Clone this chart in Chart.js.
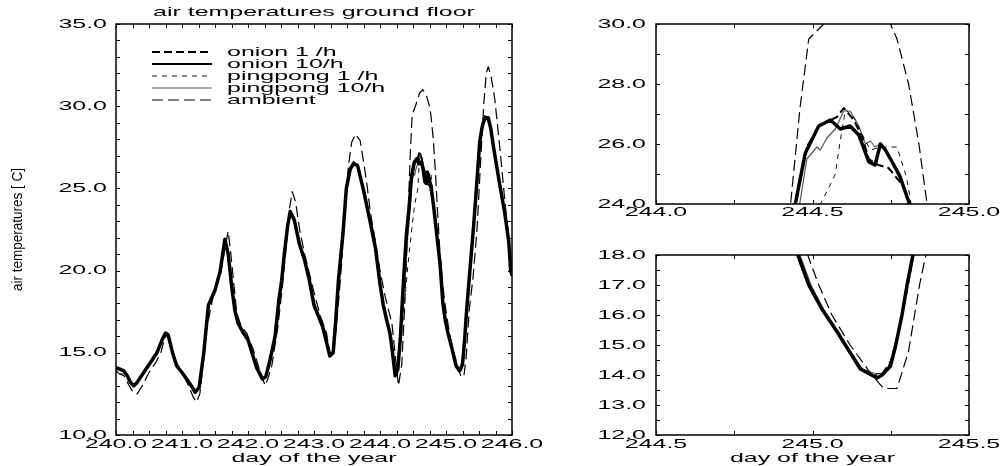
<!DOCTYPE html>
<html>
<head>
<meta charset="utf-8">
<script src="https://cdn.jsdelivr.net/npm/chart.js@4.4.1/dist/chart.umd.min.js"></script>
<style>
    html, body { margin: 0; padding: 0; background: #fff; }
    #wrap      { position: relative; width: 1007px; height: 466px; overflow: hidden; }
    canvas     { position: absolute; }
</style>
</head>
<body>
<div id="wrap">
    <canvas id="main-chart"   width="545" height="466" style="left:0;top:0;"></canvas>
    <canvas id="top-chart"    width="462" height="230" style="left:545px;top:0;"></canvas>
    <canvas id="bottom-chart" width="462" height="236" style="left:545px;top:230px;"></canvas>
</div>
<script>
// ───────────────────────── DATA (day of year / air temperature °C) ─────────────────────────
const seriesLabels = ["onion 1 /h", "onion 10/h", "pingpong 1 /h", "pingpong 10/h", "ambient"];

const onion10Day  = [240.00,240.06,240.12,240.17,240.22,240.27,240.32,240.42,240.52,240.62,240.70,240.75,240.79,240.85,240.92,241.00,241.07,241.14,241.20,241.26,241.33,241.40,241.50,241.58,241.65,241.70,241.76,241.80,241.85,241.93,242.00,242.06,242.13,242.22,242.27,242.33,242.41,242.47,242.51,242.55,242.60,242.64,242.70,242.78,242.86,242.93,243.00,243.07,243.13,243.18,243.24,243.29,243.33,243.37,243.44,243.49,243.55,243.60,243.66,243.75,243.85,243.93,244.00,244.05,244.10,244.15,244.19,244.23,244.27,244.31,244.35,244.40,244.445,244.477,244.52,244.557,244.589,244.62,244.648,244.68,244.70,244.717,244.733,244.76,244.78,244.81,244.86,244.91,244.953,244.988,245.03,245.078,245.12,245.153,245.206,245.222,245.249,245.265,245.286,245.302,245.321,245.37,245.42,245.47,245.51,245.55,245.59,245.64,245.68,245.72,245.82,245.89,245.95,245.98,246.00];
const onion10Temp = [14.1,14.0,13.9,13.6,13.2,13.0,13.2,13.8,14.4,15.0,15.8,16.2,16.1,15.1,14.2,13.8,13.4,13.0,12.6,12.9,15.0,17.9,18.8,20.0,21.9,21.0,18.8,17.6,16.8,16.2,15.8,15.0,14.1,13.4,13.55,14.5,16.0,18.3,19.4,21.0,22.7,23.6,23.1,21.6,20.6,19.4,17.9,17.2,16.6,15.8,14.8,15.0,17.0,19.4,22.3,25.0,26.2,26.5,26.4,24.9,23.0,21.4,19.2,17.9,17.0,16.2,15.0,13.6,14.0,16.0,19.0,22.2,24.0,25.7,26.6,26.8,26.5,26.6,26.3,25.4,25.3,26.0,25.8,25.3,24.9,24.0,22.2,20.4,18.0,17.0,16.2,15.45,14.75,14.2,13.9,14.0,14.3,14.95,16.0,17.0,18.0,20.4,22.8,25.5,27.8,28.8,29.3,29.3,28.6,27.5,25.1,23.5,21.8,20.0,19.7];

const onion1Day  = [240.00,240.06,240.12,240.17,240.22,240.27,240.32,240.42,240.52,240.62,240.70,240.75,240.79,240.85,240.92,241.00,241.07,241.14,241.20,241.26,241.33,241.40,241.50,241.58,241.65,241.70,241.76,241.80,241.85,241.93,242.00,242.06,242.13,242.22,242.27,242.33,242.41,242.47,242.51,242.55,242.60,242.64,242.70,242.78,242.86,242.93,243.00,243.07,243.13,243.18,243.24,243.29,243.33,243.37,243.44,243.49,243.55,243.60,243.66,243.75,243.85,243.93,244.00,244.05,244.10,244.15,244.19,244.23,244.27,244.31,244.35,244.40,244.445,244.482,244.52,244.578,244.60,244.632,244.66,244.68,244.71,244.743,244.79,244.81,244.86,244.91,244.955,244.99,245.03,245.08,245.12,245.155,245.20,245.225,245.25,245.27,245.29,245.305,245.322,245.37,245.42,245.47,245.51,245.55,245.59,245.64,245.68,245.72,245.82,245.89,245.95,245.98,246.00];
const onion1Temp = [14.1,14.0,13.9,13.6,13.2,13.0,13.2,13.8,14.4,15.0,15.8,16.2,16.1,15.1,14.2,13.8,13.4,13.0,12.6,12.9,15.0,17.9,18.8,20.0,21.9,21.0,18.8,17.6,16.8,16.2,15.8,15.0,14.1,13.4,13.55,14.5,16.0,18.3,19.4,21.0,22.7,23.6,23.1,21.6,20.6,19.4,17.9,17.2,16.6,15.8,14.8,15.0,17.0,19.4,22.3,25.0,26.2,26.6,26.4,24.9,23.0,21.4,19.2,17.9,17.0,16.2,15.0,13.6,14.0,16.0,19.0,22.2,24.0,25.9,26.6,26.9,27.2,26.8,26.2,25.5,25.3,25.2,24.6,24.0,22.2,20.4,18.0,17.0,16.2,15.4,14.75,14.2,13.95,14.05,14.4,15.2,16.2,17.0,18.0,20.4,22.8,25.5,27.8,28.8,29.4,29.1,28.6,27.5,25.1,23.5,21.8,20.0,19.7];

const ping1Day  = [240.00,240.06,240.12,240.17,240.22,240.27,240.32,240.42,240.52,240.62,240.70,240.75,240.79,240.85,240.92,241.00,241.07,241.14,241.20,241.26,241.33,241.40,241.50,241.58,241.65,241.70,241.76,241.80,241.85,241.93,242.00,242.06,242.13,242.22,242.27,242.33,242.41,242.47,242.51,242.55,242.60,242.64,242.70,242.78,242.86,242.93,243.00,243.07,243.13,243.18,243.24,243.29,243.33,243.37,243.44,243.49,243.55,243.60,243.66,243.75,243.85,243.93,244.00,244.05,244.10,244.15,244.19,244.23,244.27,244.31,244.36,244.42,244.48,244.525,244.55,244.573,244.587,244.598,244.605,244.632,244.66,244.685,244.72,244.77,244.80,244.815,244.86,244.91,244.958,244.99,245.03,245.08,245.12,245.155,245.20,245.225,245.25,245.27,245.29,245.307,245.322,245.37,245.42,245.47,245.51,245.55,245.59,245.64,245.68,245.72,245.82,245.89,245.95,245.98,246.00];
const ping1Temp = [14.1,14.0,13.9,13.6,13.2,13.0,13.2,13.8,14.4,15.0,15.8,16.2,16.1,15.1,14.2,13.8,13.4,13.0,12.6,12.9,15.0,17.9,18.8,20.0,21.9,21.0,18.8,17.6,16.8,16.2,15.8,15.0,14.1,13.4,13.55,14.5,16.0,18.3,19.4,21.0,22.7,23.6,23.1,21.6,20.6,19.4,17.9,17.2,16.6,15.8,14.8,15.0,17.0,19.4,22.3,25.0,26.2,26.5,26.4,24.9,23.0,21.4,19.2,17.9,17.0,16.2,15.0,13.6,14.0,15.5,17.5,20.2,22.5,24.0,24.5,25.0,26.0,26.7,27.15,26.9,26.3,25.8,25.9,25.9,24.9,24.0,22.3,20.5,18.0,17.05,16.25,15.5,14.8,14.25,14.0,14.1,14.5,15.3,16.3,17.2,18.0,20.4,22.8,25.5,27.8,28.8,29.2,29.2,28.6,27.5,25.1,23.5,21.8,20.0,19.7];

const ping10Day  = [240.00,240.05,240.10,240.16,240.22,240.27,240.32,240.42,240.52,240.62,240.70,240.75,240.79,240.85,240.92,241.00,241.07,241.14,241.20,241.26,241.33,241.40,241.50,241.58,241.65,241.70,241.76,241.80,241.85,241.93,242.00,242.06,242.13,242.22,242.27,242.33,242.41,242.47,242.51,242.55,242.60,242.64,242.70,242.78,242.86,242.93,243.00,243.07,243.13,243.18,243.24,243.29,243.33,243.37,243.44,243.49,243.55,243.60,243.66,243.75,243.85,243.93,244.00,244.05,244.10,244.15,244.19,244.23,244.27,244.31,244.36,244.40,244.459,244.482,244.514,244.525,244.546,244.573,244.60,244.62,244.648,244.669,244.685,244.70,244.717,244.743,244.78,244.81,244.86,244.91,244.96,244.995,245.045,245.105,245.16,245.20,245.225,245.25,245.268,245.287,245.303,245.322,245.37,245.42,245.47,245.51,245.55,245.59,245.64,245.68,245.72,245.82,245.89,245.95,245.98,246.00];
const ping10Temp = [13.95,13.75,13.7,13.75,13.3,13.0,13.2,13.8,14.4,15.0,15.8,16.2,16.1,15.1,14.2,13.8,13.4,13.0,12.6,12.9,15.0,17.9,18.8,20.0,21.9,21.0,18.8,17.6,16.8,16.2,15.8,15.0,14.1,13.4,13.55,14.5,16.0,18.3,19.4,21.0,22.7,23.6,23.1,21.6,20.6,19.4,17.9,17.2,16.6,15.8,14.8,15.0,17.0,19.4,22.3,25.0,26.2,26.5,26.4,24.9,23.0,21.4,19.2,17.9,17.0,16.2,15.0,13.6,14.0,16.0,18.2,21.0,24.0,25.5,25.9,25.8,26.2,26.5,27.1,27.1,26.6,26.0,26.1,25.9,26.0,25.6,25.0,24.0,22.3,20.5,18.0,17.0,16.0,15.0,14.2,14.05,14.05,14.35,15.0,16.0,17.0,18.0,20.4,22.8,25.5,27.8,28.8,29.2,29.2,28.6,27.5,25.1,23.5,21.8,20.0,19.7];

const ambientDay  = [240.00,240.06,240.12,240.20,240.26,240.32,240.40,240.50,240.60,240.68,240.73,240.77,240.82,240.90,241.00,241.10,241.17,241.22,241.27,241.32,241.37,241.47,241.58,241.65,241.70,241.74,241.78,241.83,241.90,241.98,242.08,242.18,242.26,242.30,242.36,242.45,242.52,242.58,242.63,242.67,242.72,242.79,242.87,242.95,243.03,243.10,243.19,243.23,243.27,243.31,243.37,243.42,243.47,243.52,243.57,243.63,243.70,243.79,243.86,243.93,244.00,244.08,244.18,244.24,244.28,244.33,244.37,244.40,244.43,244.46,244.488,244.536,244.60,244.65,244.70,244.749,244.77,244.807,244.84,244.866,244.91,244.955,244.988,245.02,245.062,245.12,245.19,245.227,245.27,245.307,245.326,245.342,245.36,245.41,245.47,245.52,245.57,245.61,245.64,245.68,245.74,245.82,245.89,245.95,246.00];
const ambientTemp = [13.9,13.7,13.6,13.0,12.6,12.5,13.0,13.8,14.4,15.0,15.8,16.1,15.7,14.5,13.8,13.0,12.3,12.0,12.5,14.3,16.4,18.4,19.7,21.3,22.4,21.0,19.4,17.4,16.6,16.2,15.2,13.9,13.0,13.4,14.2,16.5,19.0,21.5,23.8,24.8,24.2,22.3,20.8,19.5,18.2,17.2,16.2,15.2,14.7,15.4,18.0,20.5,24.0,26.3,27.8,28.3,27.9,25.6,23.4,21.8,20.0,18.4,16.8,14.5,13.0,14.3,17.5,20.5,24.0,27.2,29.5,30.0,30.8,31.0,30.7,30.0,29.5,28.0,26.0,24.0,21.0,19.0,17.9,17.0,16.0,15.0,14.0,13.55,13.55,14.8,16.0,17.0,17.9,19.6,22.5,26.3,30.0,32.0,32.4,31.9,30.4,27.3,24.3,22.0,20.0];

// tick labels of each panel
const mainXLabels   = [240, 241, 242, 243, 244, 245, 246];
const mainYLabels   = [10, 15, 20, 25, 30, 35];
const topXLabels    = [244.0, 244.5, 245.0];
const topYLabels    = [24, 26, 28, 30];
const bottomXLabels = [244.5, 245.0, 245.5];
const bottomYLabels = [12, 13, 14, 15, 16, 17, 18];

// ───────────────────────── TEXT HELPERS ─────────────────────────
const FONT     = '"Liberation Sans", Arial, sans-serif';
const TXT_SIZE = 13;
const TXT_K    = 1.92;   // the original lettering is stretched sideways
const TICK_LEN = 4;

function stretchText(ctx, str, x, y, align, k, size, font) {
    ctx.save();
    ctx.translate(x, y);
    ctx.scale(k, 1);
    ctx.font         = (size || TXT_SIZE) + "px " + (font || FONT);
    ctx.textAlign    = align;
    ctx.textBaseline = "middle";
    ctx.fillStyle    = "#000";
    ctx.fillText(str, 0, 0);
    ctx.restore();
}

const toPoints = (days, temps) => days.map((d, i) => ({ x: d, y: temps[i] }));

function makeDatasets() {
    return [
        { label: seriesLabels[0], data: toPoints(onion1Day, onion1Temp),   borderColor: "#000", borderWidth: 2,   borderDash: [8, 4] },
        { label: seriesLabels[1], data: toPoints(onion10Day, onion10Temp), borderColor: "#000", borderWidth: 3.5, borderDash: [] },
        { label: seriesLabels[2], data: toPoints(ping1Day, ping1Temp),     borderColor: "#111", borderWidth: 1,   borderDash: [5, 5] },
        { label: seriesLabels[3], data: toPoints(ping10Day, ping10Temp),   borderColor: "#555", borderWidth: 1.2, borderDash: [] },
        { label: seriesLabels[4], data: toPoints(ambientDay, ambientTemp), borderColor: "#000", borderWidth: 1.2, borderDash: [11, 5] },
    ];
}

// ───────────────────────── FRAME / TICKS / LABELS PLUGIN ─────────────────────────
function makeFrame(cfg) {
    return {
        id: "frame",
        afterDraw(chart) {
            const ctx = chart.ctx, a = chart.chartArea;
            const xs = chart.scales.x, ys = chart.scales.y;
            ctx.save();
            ctx.strokeStyle = "#000";
            ctx.lineWidth   = 1;
            ctx.beginPath();
            xs.ticks.forEach(t => {   // inward ticks, bottom and top
                const px = Math.round(xs.getPixelForValue(t.value)) + 0.5;
                ctx.moveTo(px, a.bottom); ctx.lineTo(px, a.bottom - TICK_LEN);
                ctx.moveTo(px, a.top);    ctx.lineTo(px, a.top + TICK_LEN);
            });
            ys.ticks.forEach(t => {   // inward ticks, left and right
                const py = Math.round(ys.getPixelForValue(t.value)) + 0.5;
                ctx.moveTo(a.left, py);  ctx.lineTo(a.left + TICK_LEN, py);
                ctx.moveTo(a.right, py); ctx.lineTo(a.right - TICK_LEN, py);
            });
            ctx.stroke();
            ctx.lineWidth = 1.5;
            ctx.strokeRect(a.left, a.top, a.right - a.left, a.bottom - a.top);
            ctx.restore();

            cfg.xLabels.forEach(v => stretchText(ctx, v.toFixed(1), xs.getPixelForValue(v), a.bottom + cfg.xGap, "center", TXT_K));
            cfg.yLabels.forEach(v => stretchText(ctx, v.toFixed(1), a.left - cfg.yGap, ys.getPixelForValue(v), "right", TXT_K));

            if (cfg.xTitle) stretchText(ctx, cfg.xTitle, (a.left + a.right) / 2, a.bottom + 23, "center", TXT_K);
            if (cfg.title)  stretchText(ctx, cfg.title, (a.left + a.right) / 2, 12, "center", TXT_K);
            if (cfg.yTitle) {
                ctx.save();
                ctx.translate(18, (a.top + a.bottom) / 2);
                ctx.rotate(-Math.PI / 2);
                stretchText(ctx, cfg.yTitle, 0, 0, "center", 0.9, 15);
                ctx.restore();
            }
            if (cfg.legend) {
                chart.data.datasets.forEach((ds, i) => {
                    const y = 52 + i * 12;
                    ctx.save();
                    ctx.strokeStyle = ds.borderColor;
                    ctx.lineWidth   = Math.min(ds.borderWidth, 2);
                    ctx.setLineDash(ds.borderDash);
                    ctx.beginPath(); ctx.moveTo(152, y); ctx.lineTo(212, y); ctx.stroke();
                    ctx.restore();
                    stretchText(ctx, ds.label, 227, y, "left", TXT_K);
                });
            }
        }
    };
}

// ───────────────────────── CHART FACTORY ─────────────────────────
function makeChart(id, p) {
    return new Chart(document.getElementById(id).getContext("2d"), {
        type: "line",
        data: { datasets: makeDatasets() },
        options: {
            responsive: false,
            animation:  false,
            devicePixelRatio: 1,
            layout: { padding: { left: 0, right: p.padRight, top: p.padTop, bottom: 0 } },
            elements: { point: { radius: 0 }, line: { tension: 0, borderJoinStyle: "round" } },
            plugins: { legend: { display: false }, tooltip: { enabled: false } },
            scales: {
                x: {
                    type: "linear", min: p.xMin, max: p.xMax,
                    ticks:  { stepSize: 0.25, display: false },
                    grid:   { display: false },
                    border: { display: false },
                    afterFit: s => { s.height = p.xHeight; }
                },
                y: {
                    type: "linear", min: p.yMin, max: p.yMax,
                    ticks:  { stepSize: p.yStep, display: false },
                    grid:   { display: false },
                    border: { display: false },
                    afterFit: s => { s.width = p.yWidth; }
                }
            }
        },
        plugins: [makeFrame(p.frame)]
    });
}

// left: whole week
makeChart("main-chart", {
    xMin: 240, xMax: 246, yMin: 10, yMax: 35, yStep: 1,
    padRight: 33, padTop: 24, xHeight: 31, yWidth: 116,
    frame: { xLabels: mainXLabels, yLabels: mainYLabels, xGap: 9, yGap: 9,
             xTitle: "day of the year", title: "air temperatures ground floor",
             yTitle: "air temperatures [ C]", legend: true }
});

// top right: peak of day 244
makeChart("top-chart", {
    xMin: 244, xMax: 245, yMin: 24, yMax: 30, yStep: 1,
    padRight: 38, padTop: 24, xHeight: 26, yWidth: 111,
    frame: { xLabels: topXLabels, yLabels: topYLabels, xGap: 8, yGap: 10 }
});

// bottom right: night minimum of day 245
makeChart("bottom-chart", {
    xMin: 244.5, xMax: 245.5, yMin: 12, yMax: 18, yStep: 0.5,
    padRight: 38, padTop: 25, xHeight: 31, yWidth: 111,
    frame: { xLabels: bottomXLabels, yLabels: bottomYLabels, xGap: 9, yGap: 10,
             xTitle: "day of the year" }
});
</script>
</body>
</html>
